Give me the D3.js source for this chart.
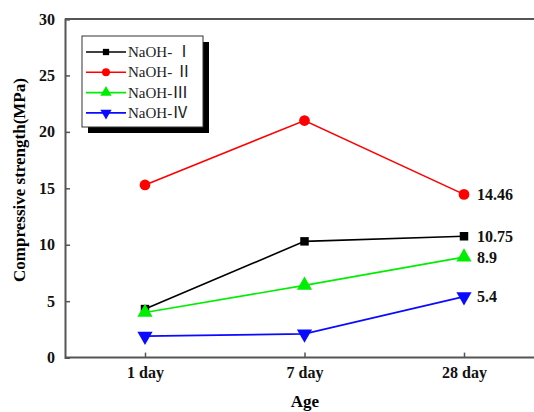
<!DOCTYPE html>
<html>
<head>
<meta charset="utf-8">
<script src="https://cdn.jsdelivr.net/npm/d3@7"></script>
<style>
  body { margin: 0; background: #fff; }
  svg { display: block; }
</style>
</head>
<body>
<script>
// donnees
var ages = ["1 day", "7 day", "28 day"];
var naoh1 = [4.3, 10.3, 10.75];
var naoh2 = [15.3, 21.0, 14.46];
var naoh3 = [4.0, 6.4, 8.9];
var naoh4 = [1.9, 2.1, 5.4];
var seriesPrefix = ["NaOH- ", "NaOH- ", "NaOH-", "NaOH-"];
var seriesRoman = ["Ⅰ", "Ⅱ", "Ⅲ", "Ⅳ"];
var endLabels = ["10.75", "14.46", "8.9", "5.4"];
var yTicks = [0, 5, 10, 15, 20, 25, 30];

var w = 534, h = 412;
var margeG = 65, margeH = 19, basY = 357.6;
var font = "'Liberation Serif', 'Times New Roman', serif";

var series = [
  { values: naoh1, color: "#000000", symbol: d3.symbolSquare, size: 72, label: endLabels[0] },
  { values: naoh2, color: "#ff0000", symbol: d3.symbolCircle, size: 90, label: endLabels[1] },
  { values: naoh3, color: "#00ee00", symbol: d3.symbolTriangle, size: 100, label: endLabels[2] },
  { values: naoh4, color: "#0a0aff", symbol: d3.symbolTriangle, size: 100, label: endLabels[3], flip: true }
];

var svg = d3.select("body").append("svg")
  .attr("width", w)
  .attr("height", h)
  .style("font-family", font);

var x = d3.scalePoint().domain(ages).range([145, 464]);
var y = d3.scaleLinear().domain([0, 30]).range([basY, margeH]);

// cadre (pas de bord droit visible)
svg.append("line")
  .attr("x1", margeG).attr("x2", w).attr("y1", margeH).attr("y2", margeH)
  .attr("stroke", "#555").attr("stroke-width", 2);

var yAxis = svg.append("g")
  .attr("transform", "translate(" + margeG + ",0)")
  .call(d3.axisLeft(y).tickValues(yTicks).tickSize(-5).tickPadding(10));
yAxis.select(".domain").attr("stroke", "#555").attr("stroke-width", 2);
yAxis.selectAll(".tick line").attr("stroke", "#555").attr("stroke-width", 1.5);
yAxis.selectAll("text")
  .attr("fill", "#111")
  .style("font-family", font)
  .style("font-size", "16px")
  .style("font-weight", "bold");

var xAxis = svg.append("g")
  .attr("transform", "translate(0," + basY + ")")
  .call(d3.axisBottom(x).tickSize(-5).tickPadding(9));
xAxis.select(".domain").remove();
xAxis.append("line")
  .attr("x1", margeG).attr("x2", w)
  .attr("stroke", "#555").attr("stroke-width", 2);
xAxis.selectAll(".tick line").attr("stroke", "#555").attr("stroke-width", 1.5);
xAxis.selectAll("text")
  .attr("fill", "#111")
  .style("font-family", font)
  .style("font-size", "16px")
  .style("font-weight", "bold");

// titres des axes
svg.append("text")
  .text("Age")
  .attr("x", 305).attr("y", 407)
  .attr("text-anchor", "middle")
  .style("font-size", "17px").style("font-weight", "bold");

svg.append("text")
  .text("Compressive strength(MPa)")
  .attr("transform", "translate(25," + 180 + ") rotate(-90)")
  .attr("text-anchor", "middle")
  .style("font-size", "17px").style("font-weight", "bold");

// courbes
var line = d3.line()
  .x(function(d, i) { return x(ages[i]); })
  .y(function(d) { return y(d); });

series.forEach(function(s) {
  svg.append("path")
    .datum(s.values)
    .attr("d", line)
    .attr("fill", "none")
    .attr("stroke", s.color)
    .attr("stroke-width", 1.6);

  svg.selectAll(null)
    .data(s.values)
    .enter()
    .append("path")
    .attr("d", d3.symbol().type(s.symbol).size(s.size))
    .attr("transform", function(d, i) {
      return "translate(" + x(ages[i]) + "," + y(d) + ")" + (s.flip ? " rotate(180)" : "");
    })
    .attr("fill", s.color);

  var last = s.values[s.values.length - 1];
  svg.append("text")
    .text(s.label)
    .attr("x", x(ages[ages.length - 1]) + 13)
    .attr("y", y(last) + 5.5)
    .attr("fill", "#111")
    .style("font-size", "16px").style("font-weight", "bold");
});

// legende
var legende = svg.append("g").attr("transform", "translate(82,36)");
legende.append("rect")
  .attr("x", 6).attr("y", 6).attr("width", 121).attr("height", 91)
  .attr("fill", "#000");
legende.append("rect")
  .attr("width", 121).attr("height", 91)
  .attr("fill", "#fff").attr("stroke", "#333").attr("stroke-width", 1);

series.forEach(function(s, i) {
  var ly = 16 + i * 20.3;
  legende.append("line")
    .attr("x1", 4).attr("x2", 44).attr("y1", ly).attr("y2", ly)
    .attr("stroke", s.color).attr("stroke-width", 1.6);
  legende.append("path")
    .attr("d", d3.symbol().type(s.symbol).size(s.size * 0.55))
    .attr("transform", "translate(24," + ly + ")" + (s.flip ? " rotate(180)" : ""))
    .attr("fill", s.color);
  var t = legende.append("text")
    .attr("x", 46).attr("y", ly + 5)
    .attr("fill", "#222")
    .style("font-size", "15px");
  t.append("tspan").text(seriesPrefix[i]);
  t.append("tspan")
    .text(seriesRoman[i])
    .style("font-family", "'Noto Sans CJK SC', 'DejaVu Serif', serif")
    .style("font-size", "16px");
});
</script>
</body>
</html>
